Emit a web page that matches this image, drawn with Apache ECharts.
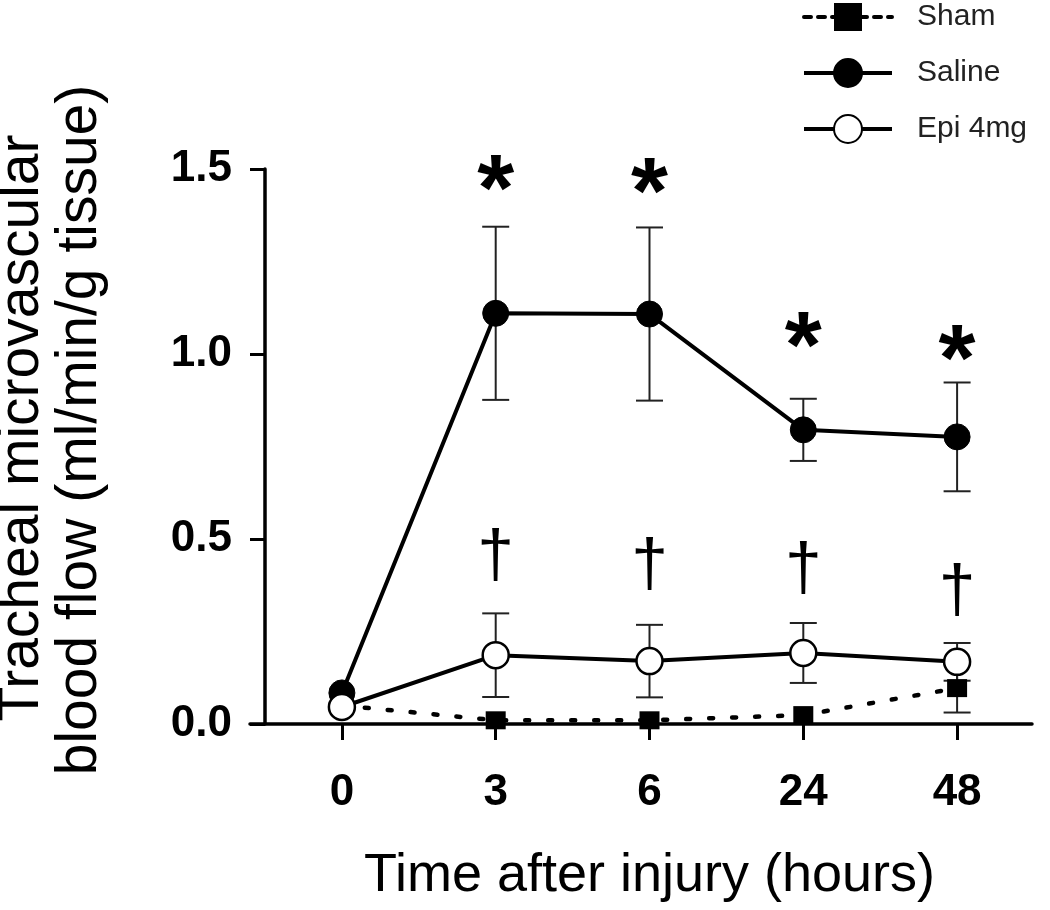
<!DOCTYPE html>
<html><head><meta charset="utf-8">
<script src="https://cdn.jsdelivr.net/npm/echarts@6/dist/echarts.min.js"></script>
<style>html,body{margin:0;padding:0;background:#fff}#c{width:1050px;height:910px}</style>
</head><body><div id="c"></div>
<script>
// ---- data ----
const categories = ['0', '3', '6', '24', '48'];
const shamMean = [0.05, 0.01, 0.01, 0.024, 0.097];
const shamSem = [0, 0, 0, 0, 0.066];
const salineMean = [0.084, 1.11, 1.108, 0.795, 0.776];
const salineSem = [0, 0.234, 0.234, 0.084, 0.147];
const epiMean = [0.046, 0.186, 0.17, 0.192, 0.168];
const epiSem = [0, 0.113, 0.098, 0.081, 0.051];
const starY = [null, 1.485, 1.475, 1.06, 1.025];
const daggerY = [null, 0.45, 0.425, 0.415, 0.355];
const yMin = 0, yMax = 1.5, yStep = 0.5;

const FF = '"Liberation Sans", Arial, Helvetica, sans-serif';

function errSeries(name, mean, sem, z) {
  return {
    type: 'custom', name: name + ' err', z: z, silent: true,
    encode: { x: 0, y: [1, 2] },
    data: mean.map((m, i) => [i, m - sem[i], m + sem[i], sem[i]]),
    renderItem: function (params, api) {
      if (api.value(3) <= 0) return null;
      const lo = api.coord([api.value(0), api.value(1)]);
      const hi = api.coord([api.value(0), api.value(2)]);
      const hw = 13.5;
      const st = { stroke: '#222', lineWidth: 2 };
      return { type: 'group', children: [
        { type: 'line', shape: { x1: lo[0], y1: lo[1], x2: hi[0], y2: hi[1] }, style: st },
        { type: 'line', shape: { x1: lo[0] - hw, y1: lo[1], x2: lo[0] + hw, y2: lo[1] }, style: st },
        { type: 'line', shape: { x1: hi[0] - hw, y1: hi[1], x2: hi[0] + hw, y2: hi[1] }, style: st }
      ] };
    }
  };
}

function markSeries(name, ys, txt, font, dy) {
  return {
    type: 'custom', name: name, z: 6, silent: true,
    encode: { x: 0, y: 1 },
    data: ys.map((v, i) => [i, v]).filter(d => d[1] != null),
    renderItem: function (params, api) {
      const p = api.coord([api.value(0), api.value(1)]);
      return { type: 'text', x: p[0], y: p[1] + dy, style: {
        text: txt, font: font, fill: '#000',
        align: 'center', verticalAlign: 'middle', textAlign: 'center', textVerticalAlign: 'middle'
      } };
    }
  };
}

const chart = echarts.init(document.getElementById('c'), null, { renderer: 'canvas' });
chart.setOption({
  animation: false,
  backgroundColor: '#fff',
  textStyle: { fontFamily: FF },
  legend: {
    orient: 'vertical', left: 797, top: -3,
    itemWidth: 88, itemHeight: 35, itemGap: 26,
    selectedMode: false,
    lineStyle: { width: 4 },
    textStyle: { fontSize: 30, color: '#222', fontFamily: FF, padding: [0, 0, 0, 20] },
    data: [
      { name: 'Sham', lineStyle: { type: [7, 7], width: 4 } },
      { name: 'Saline', lineStyle: { width: 4 } },
      { name: 'Epi 4mg', lineStyle: { width: 4 } }
    ]
  },
  grid: [
    { left: 265, right: 16, top: 169, bottom: 186 },
    { left: 250, right: 18, top: 169, bottom: 186 }
  ],
  xAxis: [
    {
      type: 'category', gridIndex: 0, data: categories, boundaryGap: true,
      axisLine: { show: false },
      axisTick: { show: true, alignWithLabel: true, length: 16, lineStyle: { color: '#000', width: 3 } },
      axisLabel: { fontSize: 44, fontWeight: 'bold', color: '#000', margin: 47, fontFamily: FF },
      splitLine: { show: false },
      name: 'Time after injury (hours)', nameLocation: 'middle', nameGap: 125,
      nameTextStyle: { fontSize: 54, color: '#000', fontFamily: FF }
    },
    {
      type: 'value', gridIndex: 1, min: 0, max: 1,
      axisLine: { show: true, lineStyle: { color: '#000', width: 3.5 } },
      axisTick: { show: false }, axisLabel: { show: false }, splitLine: { show: false }
    }
  ],
  yAxis: [
    {
      type: 'value', gridIndex: 0, min: yMin, max: yMax, interval: yStep,
      axisLine: { show: true, lineStyle: { color: '#000', width: 3.5 } },
      axisTick: { show: true, length: 15, lineStyle: { color: '#000', width: 3 } },
      axisLabel: { fontSize: 44, fontWeight: 'bold', color: '#000', margin: 33, fontFamily: FF,
        formatter: v => v.toFixed(1) },
      splitLine: { show: false }
    },
    { type: 'value', gridIndex: 1, min: 0, max: 1, show: false }
  ],
  graphic: [
    { type: 'text', x: 22, y: 428, rotation: Math.PI / 2, style: {
      text: 'Tracheal microvascular', fontSize: 57, fontFamily: FF, fill: '#000',
      align: 'center', verticalAlign: 'middle', textAlign: 'center', textVerticalAlign: 'middle' } },
    { type: 'text', x: 80, y: 430, rotation: Math.PI / 2, style: {
      text: 'blood flow (ml/min/g tissue)', fontSize: 57, fontFamily: FF, fill: '#000',
      align: 'center', verticalAlign: 'middle', textAlign: 'center', textVerticalAlign: 'middle' } }
  ],
  series: [
    errSeries('Saline', salineMean, salineSem, 2),
    errSeries('Epi 4mg', epiMean, epiSem, 2),
    errSeries('Sham', shamMean, shamSem, 2),
    {
      name: 'Saline', type: 'line', data: salineMean, z: 3,
      symbol: 'circle', symbolSize: 26,
      lineStyle: { color: '#000', width: 4 },
      itemStyle: { color: '#000', borderColor: '#000', borderWidth: 1 }
    },
    {
      name: 'Sham', type: 'line', data: shamMean, z: 4,
      symbol: 'rect', symbolSize: [20, 18],
      lineStyle: { color: '#000', width: 4.5, type: [4, 19], cap: 'round' },
      itemStyle: { color: '#000' }
    },
    {
      name: 'Epi 4mg', type: 'line', data: epiMean, z: 5,
      symbol: 'circle', symbolSize: 26,
      lineStyle: { color: '#000', width: 4 },
      itemStyle: { color: '#fff', borderColor: '#000', borderWidth: 2.5 }
    },
    markSeries('stars', starY, '*', 'bold 95px ' + FF, 19),
    markSeries('daggers', daggerY, '\u2020', '66px ' + FF, 0)
  ]
});
</script>
</body></html>
